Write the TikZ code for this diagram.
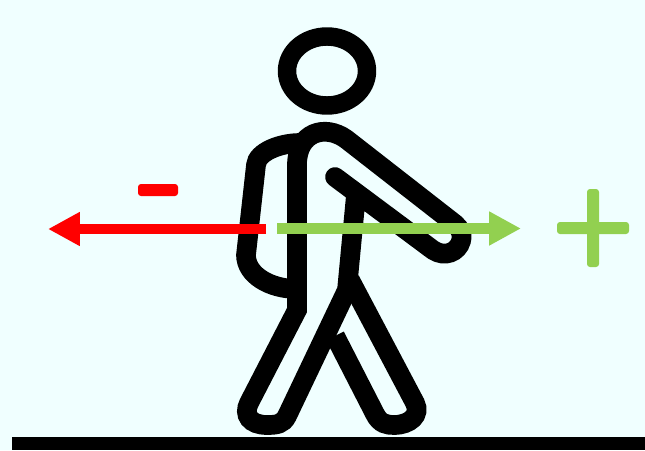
\documentclass[tikz,border=0pt]{standalone}
\usetikzlibrary{arrows.meta}
\definecolor{skyback}{HTML}{F0FFFF}
\definecolor{plusgreen}{HTML}{92D050}
\begin{document}
\begin{tikzpicture}[x=.02cm,y=-.02cm,limb/.style={draw=black,line width=11.2pt},
arrowline/.style={line width=6.2pt,-{Triangle[length=18.1pt,width=18.1pt]}},
bar/.style={rounded corners=1.7pt}]
\fill[skyback] (0,0) rectangle (645,450);
\fill[black] (12,437) rectangle (645,450);
\draw[limb,line width=10.5pt] (327,71) ellipse [x radius=40,y radius=34.5];
\draw[limb,line cap=round] (335,177) -- (433,250) .. controls (445,258) and (458,252) .. (461,241) .. controls (463,233) and (460,229) .. (455,224) -- (346,139) .. controls (325,124) and (297,132) .. (297,165) -- (297,310) -- (249,403) .. controls (243,415) and (250,425) .. (267,425) .. controls (277,425) and (283,424) .. (287,416) -- (347,290) -- (356,195);
\draw[limb] (335,336) -- (375,414) .. controls (380,424) and (387,425) .. (394,425) .. controls (410,425) and (421,415) .. (415,403) -- (350,280);
\draw[limb] (300,143) .. controls (280,143) and (257,152) .. (256,165) -- (246,255) .. controls (246,275) and (270,289) .. (297,289);
\coordinate (redtail) at (266,229);
\coordinate (redtip) at (48,229);
\coordinate (greentail) at (277,228.5);
\coordinate (greentip) at (521,228.5);
\draw[arrowline,red] (redtail) -- (redtip);
\draw[arrowline,plusgreen] (greentail) -- (greentip);
\fill[red,bar] (138,184) rectangle (178,196);
\fill[plusgreen,bar] (557,222) rectangle (629,234);
\fill[plusgreen,bar] (587,189) rectangle (599,267);
\end{tikzpicture}
\end{document}
